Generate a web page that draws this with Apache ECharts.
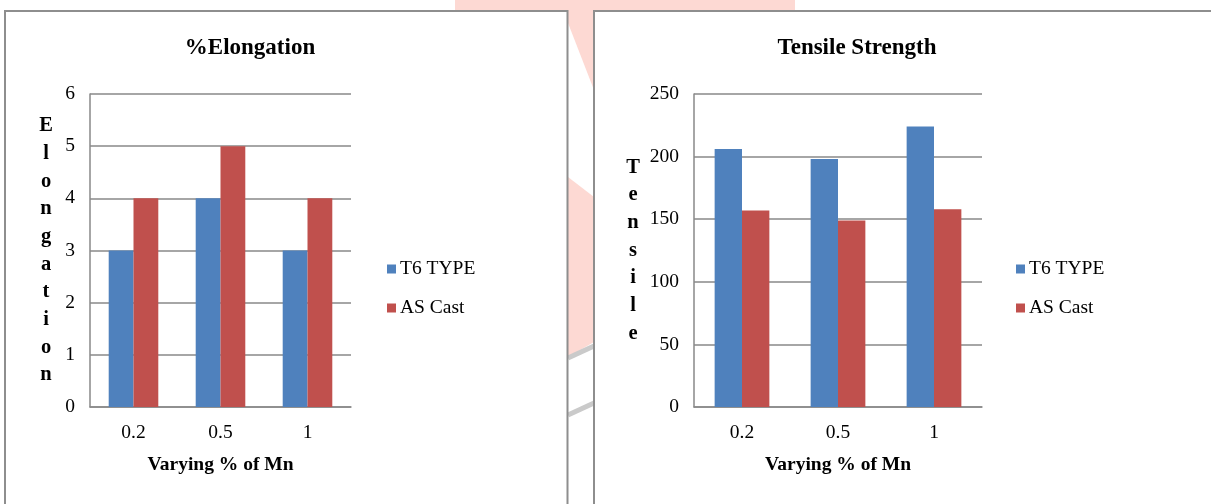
<!DOCTYPE html>
<html>
<head>
<meta charset="utf-8">
<script src="https://cdn.jsdelivr.net/npm/echarts@6/dist/echarts.min.js"></script>
<style>
  html, body { margin: 0; padding: 0; background: #ffffff; }
  #chart { width: 1211px; height: 504px; }
</style>
</head>
<body>
<div id="chart"></div>
<script>
// Manganese content categories (x axis)
const mnLevels = ['0.2', '0.5', '1'];

// %Elongation per Mn level
const elongationT6 = [3, 4, 3];
const elongationAsCast = [4, 5, 4];

// Tensile strength per Mn level
const tensileT6 = [206, 198, 224];
const tensileAsCast = [157, 149, 158];

const seriesNames = ['T6 TYPE', 'AS Cast'];
const seriesColors = ['#4f81bd', '#c0504d'];

const FONT = '"Liberation Serif", "Times New Roman", serif';
const GRID_GRAY = '#898989';
const LABEL_SIZE = 19.5;

function vertical(word) { return word.split('').join('\n'); }

function xAxisFor(gridIndex) {
  return {
    type: 'category', gridIndex, data: mnLevels,
    axisLine: { lineStyle: { color: GRID_GRAY, width: 1.5 } },
    axisTick: { show: false },
    axisLabel: { color: '#000', fontFamily: FONT, fontSize: LABEL_SIZE, margin: 16 },
    name: 'Varying % of Mn', nameLocation: 'middle', nameGap: 48,
    nameTextStyle: { color: '#000', fontFamily: FONT, fontSize: 19.5, fontWeight: 'bold' }
  };
}

function yAxisFor(gridIndex, max, interval, label, gap) {
  return {
    type: 'value', gridIndex, min: 0, max, interval,
    axisLine: { show: true, lineStyle: { color: GRID_GRAY, width: 1.5 } },
    axisTick: { show: false },
    splitLine: { lineStyle: { color: GRID_GRAY, width: 1.5 } },
    axisLabel: { color: '#000', fontFamily: FONT, fontSize: LABEL_SIZE, margin: 15 },
    name: vertical(label), nameLocation: 'middle', nameRotate: 0, nameGap: gap,
    nameTextStyle: {
      color: '#000', fontFamily: FONT, fontSize: 20.5, fontWeight: 'bold',
      lineHeight: 27.7, align: 'center', verticalAlign: 'middle',
      padding: [10, 0, 0, 0]
    }
  };
}

function barSeries(name, idx, data) {
  return {
    type: 'bar', name, xAxisIndex: idx, yAxisIndex: idx, data,
    barGap: '0%', barCategoryGap: '43%',
    itemStyle: { color: seriesColors[seriesNames.indexOf(name)] }
  };
}

function legendAt(left) {
  return {
    left, top: 259, orient: 'vertical', icon: 'rect', padding: 0,
    itemWidth: 9, itemHeight: 9, itemGap: 19,
    data: seriesNames,
    textStyle: { color: '#000', fontFamily: FONT, fontSize: LABEL_SIZE, lineHeight: 20, padding: [0, 0, 0, -1] }
  };
}

const pink = '#fdd9d3';
const option = {
  backgroundColor: '#ffffff',
  animation: false,
  textStyle: { fontFamily: FONT },
  graphic: [
    // faint background mark visible above and between the two panels
    { type: 'polygon', silent: true,
      shape: { points: [[455, 0], [795, 0], [795, 10], [455, 10]] },
      style: { fill: pink } },
    { type: 'polygon', silent: true,
      shape: { points: [[568, 10], [594, 10], [594, 90], [568, 23]] },
      style: { fill: pink } },
    { type: 'polygon', silent: true,
      shape: { points: [[568, 177], [594, 197], [594, 342], [568, 357]] },
      style: { fill: pink } },
    { type: 'line', silent: true,
      shape: { x1: 568, y1: 358, x2: 594, y2: 346 },
      style: { stroke: '#cacaca', lineWidth: 5 } },
    { type: 'line', silent: true,
      shape: { x1: 568, y1: 415, x2: 594, y2: 403 },
      style: { stroke: '#cacaca', lineWidth: 5 } },
    // panel frames
    { type: 'rect', silent: true,
      shape: { x: 5, y: 11, width: 562.5, height: 520 },
      style: { fill: 'none', stroke: '#8e8e8e', lineWidth: 2 } },
    { type: 'rect', silent: true,
      shape: { x: 594, y: 11, width: 640, height: 520 },
      style: { fill: 'none', stroke: '#8e8e8e', lineWidth: 2 } }
  ],
  title: [
    { text: '%Elongation', left: 250, top: 37, textAlign: 'center', padding: 0,
      textStyle: { fontFamily: FONT, fontSize: 23, fontWeight: 'bold', color: '#000' } },
    { text: 'Tensile Strength', left: 857, top: 37, textAlign: 'center', padding: 0,
      textStyle: { fontFamily: FONT, fontSize: 23, fontWeight: 'bold', color: '#000' } }
  ],
  legend: [legendAt(387), legendAt(1016)],
  grid: [
    { left: 90, top: 94, width: 261, height: 313 },
    { left: 694, top: 94, width: 288, height: 313 }
  ],
  xAxis: [xAxisFor(0), xAxisFor(1)],
  yAxis: [
    yAxisFor(0, 6, 1, 'Elongation', 44),
    yAxisFor(1, 250, 50, 'Tensile', 61)
  ],
  series: [
    barSeries('T6 TYPE', 0, elongationT6),
    barSeries('AS Cast', 0, elongationAsCast),
    barSeries('T6 TYPE', 1, tensileT6),
    barSeries('AS Cast', 1, tensileAsCast)
  ]
};

const chart = echarts.init(document.getElementById('chart'), null, { renderer: 'canvas' });
chart.setOption(option);
</script>
</body>
</html>
